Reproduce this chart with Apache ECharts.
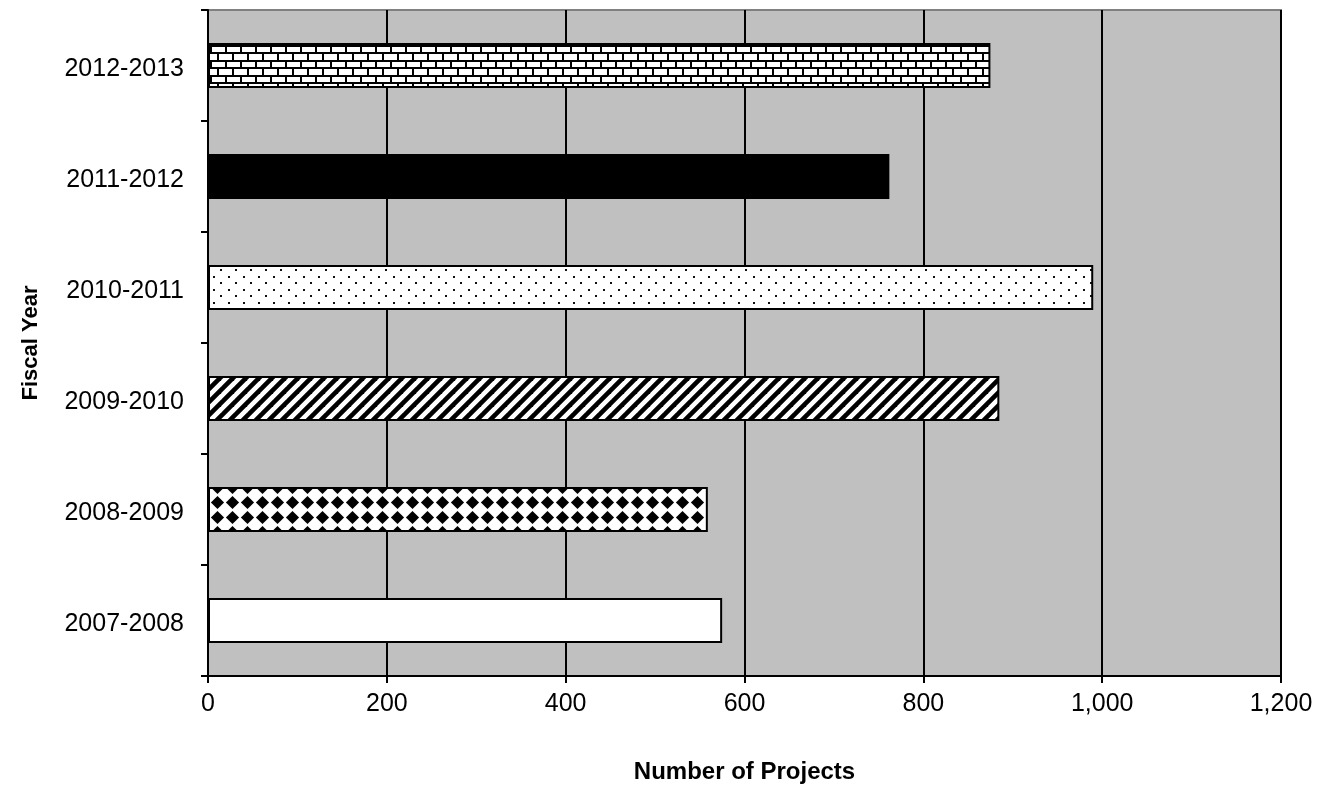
<!DOCTYPE html>
<html>
<head>
<meta charset="utf-8">
<script src="https://cdn.jsdelivr.net/npm/echarts@6/dist/echarts.min.js"></script>
<style>
html,body{margin:0;padding:0;background:#fff;}
#chart{width:1331px;height:789px;}
</style>
</head>
<body>
<div id="chart"></div>
<script>
const categories = ['2007-2008','2008-2009','2009-2010','2010-2011','2011-2012','2012-2013'];
const projects = [575, 559, 885, 990, 762, 875];
const xTicks = [0, 200, 400, 600, 800, 1000, 1200];

function tile(w, h, draw) {
  const c = document.createElement('canvas');
  c.width = w; c.height = h;
  const ctx = c.getContext('2d');
  ctx.fillStyle = '#fff';
  ctx.fillRect(0, 0, w, h);
  draw(ctx, w, h);
  return { image: c, repeat: 'repeat' };
}
const patWhite = '#ffffff';
const patDiamond = tile(15, 15, (ctx) => {
  ctx.fillStyle = '#000';
  const cx = 7.5, cy = 7.5, r = 6.6;
  ctx.beginPath();
  ctx.moveTo(cx, cy - r); ctx.lineTo(cx + r, cy); ctx.lineTo(cx, cy + r); ctx.lineTo(cx - r, cy);
  ctx.closePath(); ctx.fill();
});
const patDiag = tile(13, 13, (ctx) => {
  ctx.strokeStyle = '#000'; ctx.lineWidth = 4.6;
  for (let k = -1; k <= 1; k++) {
    ctx.beginPath();
    ctx.moveTo(k * 13 - 2, 15); ctx.lineTo(k * 13 + 15, -2);
    ctx.stroke();
  }
});
const patDots = tile(15, 13, (ctx) => {
  ctx.fillStyle = '#111';
  ctx.fillRect(3, 3, 2, 2);
  ctx.fillRect(10, 9, 2, 2);
});
const patBlack = '#000000';
const patBrick = tile(15, 15, (ctx) => {
  ctx.fillStyle = '#000';
  ctx.fillRect(0, 0, 15, 2);
  ctx.fillRect(0, 7, 15, 2);
  ctx.fillRect(0, 0, 2, 7);
  ctx.fillRect(7, 7, 2, 8);
});
const fills = [patWhite, patDiamond, patDiag, patDots, patBlack, patBrick];

const chart = echarts.init(document.getElementById('chart'));
chart.setOption({
  animation: false,
  backgroundColor: '#ffffff',
  textStyle: { fontFamily: 'Liberation Sans, Arial, sans-serif' },
  grid: {
    left: 208, right: 50, top: 10, bottom: 112,
    show: true, backgroundColor: '#c0c0c0', borderColor: '#808080', borderWidth: 2
  },
  xAxis: {
    type: 'value',
    min: xTicks[0], max: xTicks[xTicks.length - 1], interval: 200,
    name: 'Number of Projects',
    nameLocation: 'middle', nameGap: 84,
    nameTextStyle: { fontSize: 24, fontWeight: 'bold', color: '#000' },
    axisLine: { show: true, lineStyle: { color: '#000', width: 2 } },
    axisTick: { show: true, length: 7, lineStyle: { color: '#000', width: 2 } },
    axisLabel: {
      fontSize: 25, color: '#000', margin: 16,
      formatter: v => v.toLocaleString('en-US')
    },
    splitLine: { show: true, lineStyle: { color: '#000', width: 2 } }
  },
  yAxis: {
    type: 'category',
    data: categories,
    name: 'Fiscal Year',
    nameLocation: 'middle', nameGap: 166, nameRotate: 90,
    nameTextStyle: { fontSize: 22, fontWeight: 'bold', color: '#000' },
    axisLine: { show: true, lineStyle: { color: '#000', width: 2 } },
    axisTick: { show: true, length: 7, alignWithLabel: false, lineStyle: { color: '#000', width: 2 } },
    axisLabel: {
      fontSize: 25, color: '#000', margin: 24,
      formatter: v => '{t|' + v + '}',
      rich: { t: { fontSize: 25, color: '#000', padding: [7, 0, 0, 0] } }
    },
    splitLine: { show: false }
  },
  series: [{
    type: 'bar',
    barWidth: 45,
    data: projects.map((v, i) => ({
      value: v,
      itemStyle: { color: fills[i], borderColor: '#000', borderWidth: 2 }
    }))
  }]
});
</script>
</body>
</html>
